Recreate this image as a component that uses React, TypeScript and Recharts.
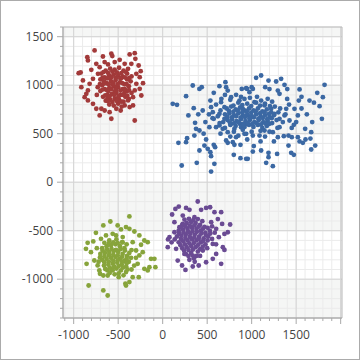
import { CartesianGrid, Scatter, ScatterChart, XAxis, YAxis } from "recharts";

type Pt = [number, number];

const X_DOMAIN = [-1120, 2015];
const Y_DOMAIN = [-1400, 1600];

const X_TICKS = [
  -1100, -1000, -900, -800, -700, -600, -500, -400, -300, -200, -100, 0, 100, 200, 300, 400, 500,
  600, 700, 800, 900, 1000, 1100, 1200, 1300, 1400, 1500, 1600, 1700, 1800, 1900, 2000
];
const Y_TICKS = [
  -1400, -1300, -1200, -1100, -1000, -900, -800, -700, -600, -500, -400, -300, -200, -100, 0, 100,
  200, 300, 400, 500, 600, 700, 800, 900, 1000, 1100, 1200, 1300, 1400, 1500, 1600
];
const X_MAJOR = [-1000, -500, 0, 500, 1000, 1500, 2000];
const Y_MAJOR = [-1000, -500, 0, 500, 1000, 1500];
const X_LABELS = [-1000, -500, 0, 500, 1000, 1500];
const Y_LABELS = [-1000, -500, 0, 500, 1000, 1500];
// edges of the interlaced horizontal bands, top edge first
const BAND_EDGES = [1600, 1500, 1000, 500, 0, -500, -1000];

const redPoints: Pt[] = [
  [-765, 1358], [-847, 1289], [-840, 1255], [-671, 1296], [-577, 1324], [-566, 1300], [-483, 1262],
  [-371, 1317], [-314, 1330], [-307, 1272], [-352, 1220], [-270, 1203], [-247, 1145], [-221, 1021],
  [-258, 963], [-240, 894], [-333, 791], [-314, 636], [-371, 774], [-472, 739], [-577, 654],
  [-708, 688], [-746, 757], [-652, 739], [-877, 877], [-914, 980], [-896, 1049], [-840, 946],
  [-944, 1124], [-922, 1131], [-802, 1159], [-746, 1220], [-708, 1186], [-652, 1238], [-614, 1214],
  [-539, 1238], [-427, 1220], [-389, 1169], [-296, 1117], [-258, 1083], [-296, 1014], [-314, 946],
  [-333, 877], [-389, 843], [-427, 791], [-521, 757], [-596, 722], [-689, 757], [-783, 808],
  [-840, 843], [-858, 911], [-821, 1014], [-783, 1066], [-727, 1117],
  [-690, 1120], [-640, 1150], [-590, 1170], [-540, 1160], [-490, 1180], [-440, 1150], [-400, 1120],
  [-700, 1060], [-650, 1080], [-600, 1100], [-550, 1110], [-500, 1100], [-450, 1090], [-400, 1060],
  [-360, 1040], [-680, 1000], [-630, 1020], [-580, 1040], [-530, 1050], [-480, 1030], [-430, 1010],
  [-380, 990], [-700, 940], [-650, 960], [-600, 970], [-550, 990], [-500, 980], [-450, 960],
  [-400, 940], [-350, 920], [-670, 880], [-620, 900], [-570, 910], [-520, 920], [-470, 900],
  [-420, 880], [-380, 860], [-640, 840], [-590, 850], [-540, 860], [-490, 850], [-440, 830],
  [-600, 800], [-550, 790], [-500, 810], [-460, 780], [-560, 1010], [-520, 980], [-610, 940],
  [-470, 1070], [-540, 930], [-590, 1070], [-660, 1040], [-430, 920], [-500, 870], [-620, 860],
  [-665, 1135], [-615, 1128], [-565, 1140], [-515, 1132], [-465, 1125], [-415, 1138],
  [-675, 1078], [-625, 1070], [-575, 1082], [-525, 1075], [-475, 1068], [-425, 1080], [-378, 1072],
  [-705, 1012], [-655, 1020], [-605, 1008], [-555, 1018], [-505, 1012], [-455, 1022], [-405, 1010],
  [-675, 955], [-625, 948], [-575, 960], [-525, 952], [-475, 945], [-425, 958], [-378, 950],
  [-645, 895], [-595, 888], [-545, 898], [-495, 890], [-445, 900], [-398, 892],
  [-615, 835], [-565, 828], [-515, 838], [-465, 830], [-730, 980], [-740, 900], [-350, 1090]
];

const bluePoints: Pt[] = [
  [338, 997], [413, 962], [439, 980], [574, 921], [638, 990], [705, 1031], [713, 980], [731, 945],
  [113, 808], [161, 798], [263, 887], [349, 763], [289, 688], [450, 739], [536, 842], [544, 773],
  [563, 722], [364, 612], [375, 550], [413, 533], [356, 481], [274, 454], [263, 413], [177, 406],
  [525, 567], [574, 653], [600, 567], [638, 585], [488, 440], [469, 378], [413, 327], [506, 344],
  [536, 310], [544, 268], [574, 385], [589, 361], [581, 189], [544, 110], [383, 200], [214, 172],
  [713, 430], [731, 406], [788, 413], [806, 385], [874, 385], [799, 282], [874, 248], [938, 241],
  [825, 464], [919, 499], [656, 825], [694, 773], [769, 877], [825, 901], [863, 842], [919, 859],
  [638, 705], [694, 653], [769, 602], [806, 550], [881, 567], [938, 602], [675, 550], [731, 516],
  [889, 962], [938, 969], [900, 756], [956, 688],
  [1050, 1076], [1106, 1100], [1189, 1048], [1275, 1038], [1331, 1066], [1369, 1004], [1152, 980],
  [1294, 945], [1313, 911], [1538, 956], [1819, 1004], [1737, 921], [1800, 877], [1650, 842],
  [1530, 842], [1399, 859], [1763, 784], [1789, 653], [1519, 688], [1481, 756], [1388, 756],
  [1425, 636], [1474, 591], [1601, 550], [1669, 516], [1519, 464], [1605, 440], [1538, 420],
  [1575, 406], [1451, 464], [1414, 481], [1361, 475], [1414, 378], [1444, 303], [1474, 282],
  [1286, 292], [1189, 303], [1189, 258], [1106, 327], [1024, 372], [1013, 316], [956, 241],
  [1163, 200], [1238, 165], [1714, 378], [1669, 337], [1294, 464], [1238, 516], [1144, 533],
  [1088, 481], [1013, 481], [938, 499], [1313, 653], [1369, 688], [1256, 705], [1200, 602],
  [1313, 567], [975, 928], [1031, 825], [1106, 842], [1144, 791], [1219, 756], [949, 962],
  [1013, 962],
  [720, 760], [770, 780], [820, 750], [870, 770], [920, 740], [970, 760], [1020, 740], [1070, 760],
  [1120, 730], [1170, 750], [1220, 720], [700, 700], [750, 710], [800, 690], [850, 710], [900, 690],
  [950, 700], [1000, 680], [1050, 700], [1100, 680], [1150, 690], [1200, 670], [1250, 690],
  [730, 640], [780, 650], [830, 630], [880, 650], [930, 630], [980, 640], [1030, 620], [1080, 640],
  [1130, 620], [1180, 630], [1230, 610], [760, 590], [820, 580], [870, 600], [920, 570], [970, 590],
  [1020, 570], [1070, 590], [1120, 560], [1170, 580], [650, 740], [680, 620], [620, 680],
  [1280, 640], [1300, 720], [1260, 780], [850, 820], [950, 810], [1050, 820], [1150, 810],
  [900, 540], [1000, 520], [1100, 530],
  [600, 800], [560, 660], [660, 860], [760, 850], [1180, 860], [1230, 830], [1320, 760], [1350, 620],
  [1290, 560], [1200, 520], [800, 520], [700, 560], [640, 610], [1380, 700], [1420, 800], [1060, 880],
  [980, 870], [880, 880], [520, 700], [480, 620], [1450, 560], [1500, 620], [1560, 760], [1620, 700],
  [1680, 620], [760, 470], [850, 480], [1150, 470], [1250, 420], [700, 900], [1000, 980], [1200, 960],
  [1400, 960], [460, 500], [400, 700], [1560, 880], [1700, 820], [1660, 450], [1100, 420], [950, 440],
  [650, 500],
  [745, 735], [795, 728], [845, 740], [895, 722], [945, 732], [995, 718], [1045, 730], [1095, 712],
  [1145, 722], [1195, 705], [725, 675], [775, 668], [825, 680], [875, 665], [925, 672], [975, 660],
  [1025, 668], [1075, 655], [1125, 662], [1175, 650], [1225, 660], [755, 615], [805, 608],
  [855, 618], [905, 602], [955, 612], [1005, 598], [1055, 610], [1105, 595], [1155, 605],
  [795, 790], [895, 795], [995, 785], [1095, 790], [1205, 785]
];

const greenPoints: Pt[] = [
  [-374, -353], [-588, -405], [-667, -446], [-506, -446], [-468, -487], [-412, -463], [-374, -481],
  [-318, -508], [-262, -549], [-206, -601], [-168, -618], [-243, -645], [-131, -790], [-93, -790],
  [-82, -876], [-149, -876], [-206, -893], [-168, -910], [-269, -979], [-337, -979], [-374, -1030],
  [-419, -1047], [-412, -1065], [-494, -979], [-618, -962], [-667, -962], [-704, -944], [-832, -1065],
  [-667, -1116], [-618, -1168], [-855, -841], [-862, -687], [-843, -625], [-780, -611], [-750, -522],
  [-693, -584], [-637, -549], [-562, -532], [-806, -721], [-768, -807], [-731, -858], [-712, -910],
  [-562, -910], [-412, -927], [-281, -841], [-262, -755], [-299, -704], [-224, -721], [-337, -618],
  [-449, -566], [-524, -549],
  [-680, -680], [-630, -660], [-580, -650], [-530, -640], [-480, -660], [-430, -680], [-700, -740],
  [-650, -730], [-600, -720], [-550, -710], [-500, -720], [-450, -740], [-400, -760], [-680, -800],
  [-630, -790], [-580, -780], [-530, -770], [-480, -790], [-430, -810], [-380, -820], [-660, -860],
  [-610, -850], [-560, -840], [-510, -830], [-460, -850], [-410, -870], [-620, -910], [-570, -900],
  [-520, -890], [-470, -910], [-540, -950], [-600, -600], [-520, -590], [-450, -620], [-350, -700],
  [-350, -900], [-720, -820],
  [-655, -625], [-605, -632], [-555, -620], [-505, -628], [-455, -618], [-405, -640],
  [-675, -705], [-625, -695], [-575, -688], [-525, -698], [-475, -690], [-425, -705], [-375, -730],
  [-705, -775], [-655, -765], [-605, -752], [-555, -748], [-505, -755], [-455, -768], [-405, -790],
  [-355, -780], [-655, -825], [-605, -818], [-555, -810], [-505, -805], [-455, -820], [-405, -835],
  [-645, -895], [-595, -880], [-545, -870], [-495, -865], [-445, -880], [-395, -900],
  [-595, -935], [-495, -940], [-440, -960], [-740, -680], [-300, -780], [-320, -860]
];

const purplePoints: Pt[] = [
  [394, -199], [181, -251], [143, -275], [106, -333], [132, -412], [263, -265], [301, -285],
  [432, -285], [488, -265], [533, -258], [582, -309], [657, -309], [668, -430], [758, -436],
  [732, -516], [694, -533], [694, -698], [676, -670], [657, -842], [601, -739], [563, -790],
  [488, -825], [405, -859], [338, -869], [256, -904], [218, -859], [169, -808], [57, -670],
  [76, -567], [60, -590], [226, -344], [357, -361], [226, -430], [545, -412], [601, -481],
  [631, -567], [563, -636], [451, -704], [338, -756], [244, -739], [151, -687], [132, -516],
  [188, -464],
  [220, -440], [270, -420], [320, -410], [370, -420], [420, -440], [470, -460], [180, -500],
  [230, -490], [280, -480], [330, -470], [380, -480], [430, -500], [480, -520], [530, -500],
  [160, -560], [210, -550], [260, -540], [310, -530], [360, -540], [410, -560], [460, -580],
  [510, -560], [180, -620], [230, -610], [280, -600], [330, -590], [380, -600], [430, -620],
  [480, -640], [220, -680], [270, -670], [320, -660], [370, -670], [420, -690], [260, -740],
  [320, -730], [380, -760], [300, -800], [360, -820],
  [245, -385], [295, -378], [345, -390], [395, -380], [445, -402], [205, -465], [255, -455],
  [305, -448], [355, -445], [405, -458], [455, -478], [505, -470], [555, -455], [185, -525],
  [235, -518], [285, -510], [335, -505], [385, -512], [435, -530], [485, -545], [535, -530],
  [585, -520], [135, -590], [205, -585], [255, -575], [305, -565], [355, -568], [405, -585],
  [455, -605], [505, -600], [555, -585], [200, -650], [250, -640], [300, -630], [350, -628],
  [400, -645], [450, -665], [500, -680], [240, -705], [290, -700], [340, -695], [395, -715],
  [290, -760], [350, -785], [420, -760], [100, -620], [600, -640], [620, -380]
];

const SERIES = [
  { name: "red", color: "#a23a3a", points: redPoints },
  { name: "blue", color: "#3b68a3", points: bluePoints },
  { name: "green", color: "#87a43b", points: greenPoints },
  { name: "purple", color: "#6a4b93", points: purplePoints }
];

const FONT = '"Segoe UI", "Open Sans", sans-serif';
const LABEL_COLOR = "#444444";
const AXIS_COLOR = "#a9a9a9";
const Y_TICK_MARGIN = 10;
const X_TICK_MARGIN = 12;

// grid positions through the axis scale when the generator gets one,
// otherwise a plain linear map over the plot offset
function yPos(args: any, values: number[]) {
  const s = args?.yAxis?.scale;
  if (typeof s === "function") return values.map((v) => s(v));
  if (s && typeof s.map === "function") return values.map((v) => s.map(v));
  const { top, height } = args.offset;
  return values.map((v) => top + ((Y_DOMAIN[1] - v) / (Y_DOMAIN[1] - Y_DOMAIN[0])) * height);
}

function xPos(args: any, values: number[]) {
  const s = args?.xAxis?.scale;
  if (typeof s === "function") return values.map((v) => s(v));
  if (s && typeof s.map === "function") return values.map((v) => s.map(v));
  const { left, width } = args.offset;
  return values.map((v) => left + ((v - X_DOMAIN[0]) / (X_DOMAIN[1] - X_DOMAIN[0])) * width);
}

function YTick(props: any) {
  const { x, y, payload } = props;
  const value = payload.value as number;
  const major = Y_MAJOR.includes(value);
  const axisX = x + Y_TICK_MARGIN;
  return (
    <g>
      <line x1={axisX - (major ? 6 : 3)} x2={axisX} y1={y} y2={y} stroke={AXIS_COLOR} />
      {Y_LABELS.includes(value) && (
        <text x={x} y={y} dy="0.355em" textAnchor="end" fill={LABEL_COLOR} fontSize={12} fontFamily={FONT}>
          {value}
        </text>
      )}
    </g>
  );
}

function XTick(props: any) {
  const { x, y, payload } = props;
  const value = payload.value as number;
  const major = X_MAJOR.includes(value);
  const axisY = y - X_TICK_MARGIN;
  return (
    <g>
      <line x1={x} x2={x} y1={axisY} y2={axisY + (major ? 6 : 3)} stroke={AXIS_COLOR} />
      {X_LABELS.includes(value) && (
        <text x={x} y={y} dy="0.71em" textAnchor="middle" fill={LABEL_COLOR} fontSize={12} fontFamily={FONT}>
          {value}
        </text>
      )}
    </g>
  );
}

export default function App() {
  return (
    <div style={{ position: "absolute", left: 0, top: 0, width: 360, height: 360, background: "#fff" }}>
      <ScatterChart width={360} height={360} margin={{ top: 27, right: 18, bottom: 0, left: 0 }}>
        <CartesianGrid
          vertical={false}
          stroke="none"
          horizontalFill={["#f5f6f5", "#ffffff"]}
          horizontalCoordinatesGenerator={(a: any) => yPos(a, BAND_EDGES)}
        />
        <CartesianGrid
          stroke="#ebebeb"
          horizontalCoordinatesGenerator={(a: any) => yPos(a, Y_TICKS)}
          verticalCoordinatesGenerator={(a: any) => xPos(a, X_TICKS)}
        />
        <CartesianGrid
          stroke="#d4d4d4"
          horizontalCoordinatesGenerator={(a: any) => yPos(a, Y_MAJOR)}
          verticalCoordinatesGenerator={(a: any) => xPos(a, X_MAJOR)}
        />
        <CartesianGrid
          stroke="#b8b8b8"
          horizontalCoordinatesGenerator={(a: any) => yPos(a, Y_DOMAIN)}
          verticalCoordinatesGenerator={(a: any) => xPos(a, X_DOMAIN)}
        />
        <XAxis
          type="number"
          dataKey="x"
          domain={X_DOMAIN}
          ticks={X_TICKS}
          interval={0}
          allowDataOverflow
          height={42}
          tickSize={0}
          tickMargin={X_TICK_MARGIN}
          tickLine={false}
          axisLine={{ stroke: AXIS_COLOR }}
          tick={<XTick />}
        />
        <YAxis
          type="number"
          dataKey="y"
          domain={Y_DOMAIN}
          ticks={Y_TICKS}
          interval={0}
          allowDataOverflow
          width={63}
          tickSize={0}
          tickMargin={Y_TICK_MARGIN}
          tickLine={false}
          axisLine={{ stroke: AXIS_COLOR }}
          tick={<YTick />}
        />
        {SERIES.map((s) => (
          <Scatter
            key={s.name}
            name={s.name}
            data={s.points.map(([x, y]) => ({ x, y }))}
            fill={s.color}
            isAnimationActive={false}
            shape={(p: any) => <circle cx={p.cx} cy={p.cy} r={2.4} fill={s.color} />}
          />
        ))}
      </ScatterChart>
      <div
        style={{
          position: "absolute",
          left: 0,
          top: 0,
          width: 360,
          height: 360,
          boxSizing: "border-box",
          border: "1px solid #ababab",
          pointerEvents: "none"
        }}
      />
    </div>
  );
}
